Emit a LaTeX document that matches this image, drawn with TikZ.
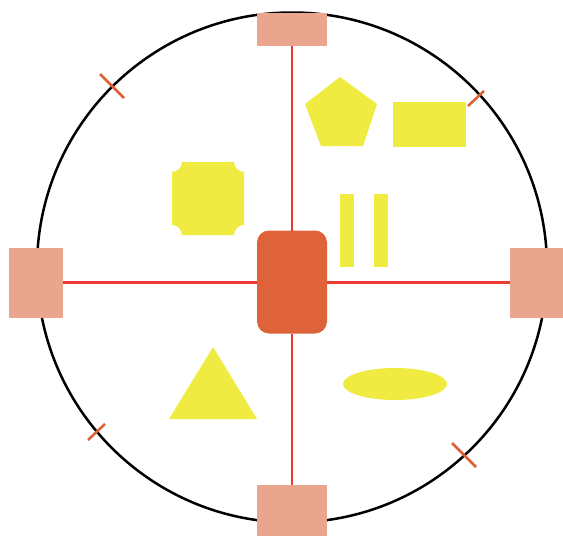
\documentclass[tikz,border=0pt]{standalone}
\usetikzlibrary{backgrounds}
\definecolor{salmon}{HTML}{EAA58F}
\definecolor{hub}{HTML}{DE6339}
\definecolor{yel}{HTML}{F0EB40}
\definecolor{spoke}{HTML}{EA3A34}
\definecolor{tick}{HTML}{DD6034}
\tikzset{
  port/.style={fill=salmon, draw=none, inner sep=0pt, outer sep=0pt},
  hubbox/.style={fill=hub, draw=none, rounded corners=12pt, minimum width=70pt, minimum height=103pt, inner sep=0pt, outer sep=0pt},
  spokeline/.style={draw=spoke, line width=2.2pt},
  ring/.style={draw=black, line width=2.5pt},
  tickline/.style={draw=tick, line width=2.5pt},
  shapefill/.style={fill=yel, draw=none}
}
\begin{document}
\begin{tikzpicture}[x=1pt,y=-1pt]
\useasboundingbox (0,0) rectangle (563,536);
\fill[white] (0,0) rectangle (563,536);
% ring
\draw[ring] (292,267.5) circle[radius=255];
% ticks
\draw[tickline] (100,74) -- (124,98);
\draw[tickline] (468,106) -- (484,91);
\draw[tickline] (88,440) -- (105,424);
\draw[tickline] (452,443) -- (476,467);
% nodes
\node[hubbox] (c) at (292,282) {};
\node[port, minimum width=70pt, minimum height=33pt] (t) at (292,29.5) {};
\node[port, minimum width=70pt, minimum height=51pt] (b) at (292,510.5) {};
\node[port, minimum width=54pt, minimum height=70pt] (l) at (36,282.5) {};
\node[port, minimum width=53pt, minimum height=70pt] (r) at (536.5,282.5) {};
% spokes
\draw[spokeline] (c) -- (t);
\draw[spokeline] (c) -- (b);
\draw[spokeline] (c.west |- l) -- (l);
\draw[spokeline] (c.east |- r) -- (r);
% shapes
\fill[shapefill] (340,77) -- (377,104) -- (363,146) -- (321,146) -- (305,104) -- cycle;
\fill[shapefill] (393,102) rectangle (466,147);
\fill[shapefill] (340,194) rectangle (354,267);
\fill[shapefill] (374,194) rectangle (388,267);
\fill[shapefill] (182,162) -- (234,162) arc[start angle=180,end angle=90,radius=10]
  -- (244,225) arc[start angle=270,end angle=180,radius=10]
  -- (182,235) arc[start angle=360,end angle=270,radius=10]
  -- (172,172) arc[start angle=90,end angle=0,radius=10] -- cycle;
\fill[shapefill] (213,347) -- (257,419) -- (169,419) -- cycle;
\fill[shapefill] (395,384) ellipse[x radius=52, y radius=16];
\end{tikzpicture}
\end{document}
